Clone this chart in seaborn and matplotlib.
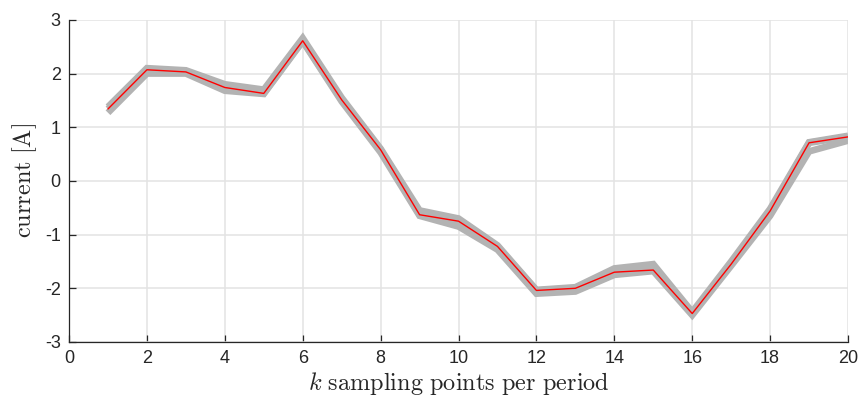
import numpy as np
import pandas as pd
import matplotlib
matplotlib.use("Agg")
import matplotlib.pyplot as plt
import seaborn as sns

# sampling index per period
k = list(range(1, 21))

# measured current (nominal trace)
current = [1.34, 2.07, 2.03, 1.74, 1.63, 2.61, 1.51, 0.58, -0.63, -0.75,
           -1.22, -2.04, -2.00, -1.70, -1.66, -2.47, -1.55, -0.56, 0.71, 0.82]

# spread of the repeated realisations (upper / lower traces)
current_hi = [1.38, 2.10, 2.06, 1.80, 1.70, 2.66, 1.55, 0.60, -0.55, -0.70,
              -1.20, -2.03, -1.98, -1.63, -1.55, -2.44, -1.50, -0.52, 0.72, 0.84]
current_lo = [1.27, 2.00, 2.00, 1.68, 1.62, 2.60, 1.48, 0.53, -0.65, -0.85,
              -1.28, -2.10, -2.06, -1.75, -1.68, -2.50, -1.58, -0.65, 0.55, 0.75]

x_ticks = [0, 2, 4, 6, 8, 10, 12, 14, 16, 18, 20]
y_ticks = [-3, -2, -1, 0, 1, 2, 3]

sns.set_theme(style="whitegrid")
plt.rcParams["font.family"] = ["Liberation Sans", "DejaVu Sans"]
plt.rcParams["mathtext.fontset"] = "cm"
plt.rcParams["axes.unicode_minus"] = False

df = pd.DataFrame({"k": k, "mid": current, "hi": current_hi, "lo": current_lo})

fig = plt.figure(figsize=(8.64, 4.05), dpi=100)
ax = fig.add_axes([0.0799, 0.1556, 0.9016, 0.7954])

band = "#b3b3b3"
for col in ["hi", "lo", "mid"]:
    sns.lineplot(data=df, x="k", y=col, ax=ax, color=band, linewidth=4.8,
                 solid_joinstyle="miter", solid_capstyle="butt")
sns.lineplot(data=df, x="k", y="mid", ax=ax, color="#ff0000", linewidth=1.0)

ax.set_xlim(0, 20)
ax.set_ylim(-3, 3)
ax.set_xticks(x_ticks)
ax.set_xticklabels([str(t) for t in x_ticks])
ax.set_yticks(y_ticks)
ax.set_yticklabels([str(t) for t in y_ticks])

ax.grid(True, color="#e3e3e3", linewidth=1.1)
ax.set_axisbelow(True)
for side in ["top", "right"]:
    ax.spines[side].set_visible(False)
for side in ["left", "bottom"]:
    ax.spines[side].set_color("#262626")
    ax.spines[side].set_linewidth(0.9)

ax.tick_params(axis="both", direction="in", length=5, width=0.9,
               colors="#262626", labelsize=13, pad=6,
               left=True, bottom=True)

ax.set_xlabel(r"$k\ \mathrm{sampling\ points\ per\ period}$", fontsize=17.5,
              color="#262626", labelpad=2)
ax.set_ylabel(r"$\mathrm{current\ [A]}$", fontsize=17.5, color="#262626",
              labelpad=4)

fig.savefig("out.png", dpi=100, facecolor="white")
